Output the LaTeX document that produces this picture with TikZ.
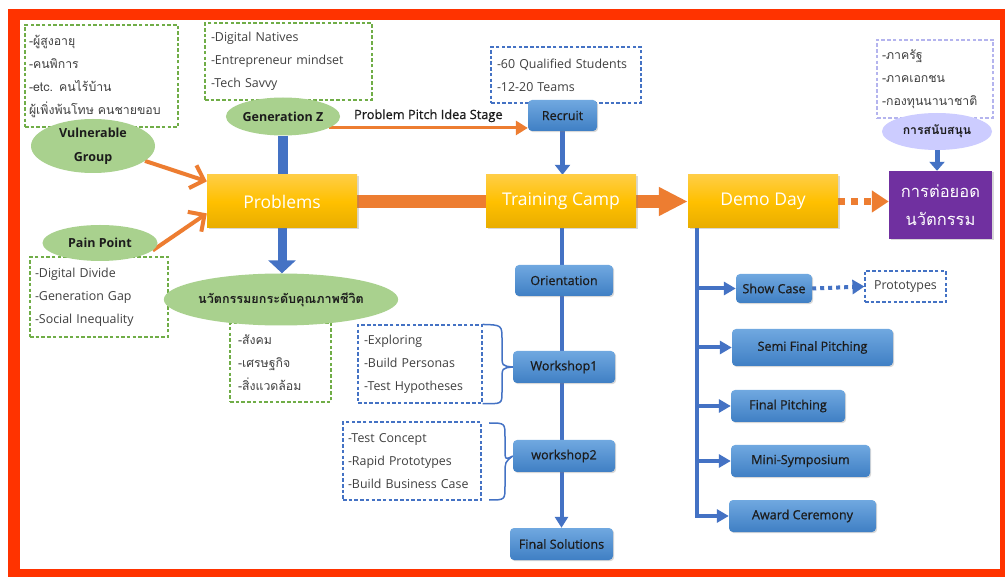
\documentclass[tikz,border=0pt]{standalone}
\usepackage{fontspec}
\setmainfont{Open Sans}
\newfontfamily\semi[FakeBold=0.7]{Open Sans}
\newfontfamily\thai[Script=Thai]{Loma}
\usetikzlibrary{arrows.meta,shadows,shapes.geometric}
\pgfdeclarelayer{back}
\pgfdeclarelayer{bg}
\pgfsetlayers{back,bg,main}
\definecolor{framered}{HTML}{FF3300}
\definecolor{gfill}{HTML}{A9D18E}
\definecolor{gdash}{HTML}{70AD47}
\definecolor{goldtop}{HTML}{FFCD45}
\definecolor{goldmid}{HTML}{FFC000}
\definecolor{goldbot}{HTML}{E8AD00}
\definecolor{orng}{HTML}{ED7D31}
\definecolor{blu}{HTML}{4472C4}
\definecolor{btop}{HTML}{70A8E0}
\definecolor{bbot}{HTML}{3F7FC4}
\definecolor{purp}{HTML}{7030A0}
\definecolor{lav}{HTML}{CCCCFF}
\definecolor{lavdash}{HTML}{B4B4EE}
\definecolor{txtgray}{HTML}{404040}
\definecolor{txtdark}{HTML}{1C1C1C}
\begin{document}
\begin{tikzpicture}[x=1pt,y=-1pt,
  note/.style={draw, line width=1.1pt, dash pattern=on 3.5pt off 2.2pt, align=left, inner sep=0pt,
    text=txtgray, font=\fontsize{12.4}{23}\selectfont},
  gnote/.style={note, draw=gdash},
  bnote/.style={note, draw=blu},
  lnote/.style={note, draw=lavdash},
  thainote/.style={font=\thai\fontsize{12.3}{23}\selectfont},
  gell/.style={ellipse, fill=gfill, inner sep=0pt, align=center, text=txtdark,
    font=\bfseries\fontsize{12.5}{24}\selectfont},
  goldbox/.style={rectangle, inner sep=0pt, top color=goldtop, bottom color=goldbot, middle color=goldmid,
    minimum width=150pt, minimum height=53pt, text=white, font=\fontsize{17.5}{20}\selectfont,
    drop shadow={opacity=0.3, shadow xshift=1.5pt, shadow yshift=-1.5pt}},
  bbox/.style={rectangle, rounded corners=4pt, inner sep=0pt, top color=btop, bottom color=bbot,
    text=txtdark, font=\semi\fontsize{12.6}{14}\selectfont,
    drop shadow={opacity=0.3, shadow xshift=1.2pt, shadow yshift=-1.2pt}},
  othin/.style={draw=orng, line width=4pt, -{Straight Barb[length=12pt,width=24pt]}},
  obar/.style={draw=orng, line width=13pt},
  bthin/.style={draw=blu, line width=4pt},
  bhead/.style={-{Triangle[length=11pt,width=13pt]}},
  brace/.style={draw=blu, line width=1.5pt}
]
\useasboundingbox (0,0) rectangle (1005,577);
\begin{pgfonlayer}{back}
\fill[framered] (8,9) rectangle (1005,577);
\fill[white] (20,20) rectangle (1000,569);
\end{pgfonlayer}

% notes
\node[gnote, thainote, minimum width=153pt, minimum height=102pt, text width=145pt] (vgn) at (101.5,76)
  {-ผู้สูงอายุ\\-คนพิการ\\-etc. คนไร้บ้าน\\ผู้เพิ่งพ้นโทษ คนชายขอบ};
\node[gnote, minimum width=167pt, minimum height=77pt, text width=155pt] (gzn) at (288.5,61.5)
  {-Digital Natives\\-Entrepreneur mindset\\-Tech Savvy};
\node[bnote, minimum width=150pt, minimum height=56pt, text width=138pt] (recn) at (566,75)
  {-60 Qualified Students\\-12-20 Teams};
\node[lnote, thainote, minimum width=116pt, minimum height=78pt, text width=106pt] (supn) at (935,79)
  {-ภาครัฐ\\-ภาคเอกชน\\-กองทุนนานาชาติ};
\node[gnote, minimum width=138pt, minimum height=80pt, text width=128pt] (ppn) at (99,297)
  {-Digital Divide\\-Generation Gap\\-Social Inequality};
\node[gnote, thainote, minimum width=101pt, minimum height=79pt, text width=85pt] (innon) at (280.5,362.5)
  {-สังคม\\-เศรษฐกิจ\\-สิ่งแวดล้อม};
\node[bnote, minimum width=124pt, minimum height=78pt, text width=112pt] (ws1n) at (420,364)
  {-Exploring\\-Build Personas\\-Test Hypotheses};
\node[bnote, minimum width=138pt, minimum height=78pt, text width=128pt] (ws2n) at (412,461)
  {-Test Concept\\-Rapid Prototypes\\-Build Business Case};
\node[bnote, minimum width=81pt, minimum height=31pt] (proto) at (905.5,286.5) {Prototypes};

% ellipses
\node[gell, minimum width=124pt, minimum height=54pt] (vg) at (93,146) {Vulnerable\\Group};
\node[gell, minimum width=110pt, minimum height=38pt] (gz) at (283,116.5) {Generation Z};
\node[gell, minimum width=115pt, minimum height=36pt] (pp) at (100,243) {Pain Point};
\node[gell, minimum width=190pt, minimum height=52pt, font=\thai\bfseries\fontsize{12.6}{14}\selectfont] (inno) at (281,299.5) {นวัตกรรมยกระดับคุณภาพชีวิต};
\node[ellipse, fill=lav, inner sep=0pt, minimum width=110pt, minimum height=37pt, text=txtdark,
  font=\thai\bfseries\fontsize{12.2}{14}\selectfont] (sup) at (937,131.5) {การสนับสนุน};

% gold boxes
\node[goldbox] (prob) at (282,201.5) {Problems};
\node[goldbox] (tc) at (561,201.5) {Training Camp};
\node[goldbox] (dd) at (763,201.5) {Demo Day};
\node[rectangle, fill=purp, minimum width=103pt, minimum height=68pt, inner sep=0pt, text=white, align=center,
  font=\thai\fontsize{16.5}{28}\selectfont, drop shadow={opacity=0.3, shadow xshift=1.5pt, shadow yshift=-1.5pt}]
  (pur) at (940.5,205) {การต่อยอด\\นวัตกรรม};

% blue boxes
\node[bbox, minimum width=69pt, minimum height=31pt] (rec) at (562.5,115.5) {Recruit};
\node[bbox, minimum width=98pt, minimum height=31pt] (ori) at (564,280.5) {Orientation};
\node[bbox, minimum width=102pt, minimum height=32pt] (ws1) at (564,367) {Workshop1};
\node[bbox, minimum width=102pt, minimum height=32pt] (ws2) at (564,456) {workshop2};
\node[bbox, minimum width=103pt, minimum height=32pt] (fs) at (561.5,544) {Final Solutions};
\node[bbox, minimum width=76pt, minimum height=29pt] (sc) at (774,288.5) {Show Case};
\node[bbox, minimum width=161pt, minimum height=37pt] (sfp) at (812.5,347.5) {Semi Final Pitching};
\node[bbox, minimum width=114pt, minimum height=32pt] (fp) at (788,406) {Final Pitching};
\node[bbox, minimum width=139pt, minimum height=32pt] (ms) at (800.5,461) {Mini-Symposium};
\node[bbox, minimum width=147pt, minimum height=32pt] (ac) at (802.5,516) {Award Ceremony};

\coordinate (ddv) at (697,228);
\coordinate (b2t) at (489,423);
\coordinate (b2b) at (489,500);

\begin{pgfonlayer}{bg}
% orange connectors
\draw[othin] (vg.-16) -- (prob.165);
\draw[othin] (pp.-8) -- (prob.189);
\draw[draw=orng, line width=3pt, -{Triangle[length=12pt,width=14pt]}] (gz.-14) -- (gz.-14 -| rec.west)
  node[midway, above=1pt, text=txtdark, font=\semi\fontsize{12.8}{14}\selectfont] (pstage) {Problem Pitch Idea Stage};
\draw[obar] (prob.east) -- (tc.west);
\draw[obar, -{Triangle[length=29pt,width=27pt]}] (tc.east) -- (dd.west);
\draw[draw=orng, line width=7pt, dash pattern=on 7pt off 6pt, -{Triangle[length=17pt,width=21pt]}] (dd.east) -- (dd.east -| pur.west);
% blue connectors
\draw[draw=blu, line width=10pt] (gz.south) -- (gz.south |- prob.north);
\draw[draw=blu, line width=9pt, -{Triangle[length=13pt,width=27pt]}] (prob.south) -- (prob.south |- inno.north);
\draw[draw=blu, line width=5pt, -{Triangle[length=10pt,width=15pt]}] (rec.south) -- (rec.south |- tc.north);
\draw[draw=blu, line width=5pt, -{Triangle[length=9pt,width=15pt]}] (sup.south) -- (sup.south |- pur.north);
\draw[bthin, bhead] (tc.south -| fs.north) -- (fs.north);
\draw[bthin] (ddv) -- (ddv |- ac.west);
\foreach \b in {sc,sfp,fp,ms,ac} {
  \draw[bthin, -{Triangle[length=12pt,width=13pt]}] ([xshift=-2pt]ddv |- \b.west) -- (\b.west);
}
\draw[bthin, dash pattern=on 4pt off 4pt, -{Triangle[length=12pt,width=14pt]}] (sc.east) -- (proto.west);
% braces
\draw[brace] (ws1n.north east) .. controls (502,325) .. (502,340) -- (502,354)
  .. controls (502,366) .. (ws1.west) .. controls (502,368) .. (502,380) -- (502,392)
  .. controls (502,404) .. (ws1n.south east);
\draw[brace] (b2t) .. controls (505,423) .. (505,437) -- (505,448)
  .. controls (505,460) .. (ws2.west) .. controls (505,462) .. (505,474) -- (505,486)
  .. controls (505,500) .. (b2b);
\end{pgfonlayer}
\end{tikzpicture}
\end{document}
